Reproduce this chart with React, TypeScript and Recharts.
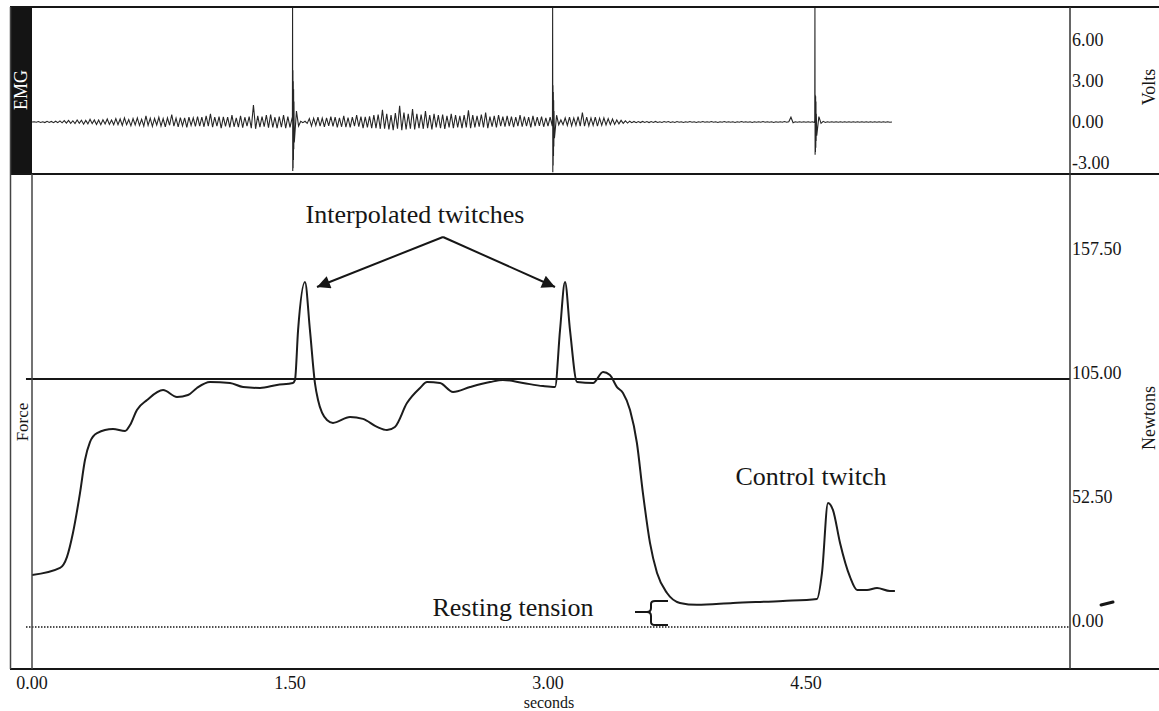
import { LineChart, Line, XAxis, YAxis, ReferenceLine } from 'recharts'

// force trace (seconds / newtons)
const forceTimes = [
    0, 0.163, 0.203, 0.238, 0.279, 0.308, 0.337, 0.378, 0.471, 0.541,
    0.570, 0.610, 0.669, 0.762, 0.843, 0.907, 0.959, 1.035, 1.151, 1.227,
    1.326, 1.424, 1.517, 1.529, 1.547, 1.587, 1.616, 1.645, 1.663, 1.715,
    1.750, 1.849, 1.924, 2.006, 2.064, 2.110, 2.180, 2.256, 2.297, 2.372,
    2.448, 2.547, 2.663, 2.738, 2.855, 2.971, 3.041, 3.070, 3.099, 3.128,
    3.169, 3.262, 3.320, 3.360, 3.401, 3.436, 3.477, 3.517, 3.552, 3.593,
    3.634, 3.692, 3.767, 3.866, 4.076, 4.366, 4.564, 4.593, 4.628, 4.657,
    4.698, 4.756, 4.797, 4.855, 4.913, 4.988, 5.017,
]
const forceNewtons = [
    22.0, 25.0, 29.6, 39.8, 56.7, 70.7, 78.3, 82.1, 83.8, 83.0,
    85.5, 91.9, 96.1, 100.3, 97.4, 98.2, 101.2, 103.7, 103.3, 101.6,
    101.2, 102.5, 103.3, 104.6, 125.7, 146.1, 125.7, 103.3, 96.1, 87.6,
    86.4, 88.9, 88.1, 84.7, 83.4, 84.7, 94.8, 101.2, 103.7, 103.3,
    99.5, 101.6, 103.7, 104.6, 103.3, 102.0, 101.6, 125.7, 146.1, 125.7,
    103.7, 103.3, 108.0, 106.7, 101.6, 99.1, 91.9, 77.9, 56.7, 35.6,
    22.9, 14.4, 10.2, 9.4, 10.2, 11.0, 11.9, 22.9, 52.5, 49.5,
    35.6, 21.2, 15.7, 15.7, 16.5, 15.2, 15.2,
]

// EMG, sampled every 12.5 ms (volts), one row = 0.5 s
const emgStep = 0.0125
const emgVolts = [
    0, 0.02, -0.02, 0.03, -0.03, 0.02, -0.04, 0.05, -0.03, 0.04, -0.05, 0.06, -0.05, 0.08, -0.06, 0.1, -0.08, 0.12, -0.1, 0.09,
    -0.12, 0.15, -0.1, 0.13, -0.16, 0.12, -0.14, 0.2, -0.12, 0.15, -0.18, 0.14, -0.2, 0.16, -0.14, 0.22, -0.18, 0.15, -0.2, 0.25,

    -0.2, 0.22, -0.25, 0.3, -0.2, 0.18, -0.28, 0.25, -0.22, 0.3, -0.26, 0.2, -0.3, 0.45, -0.25, 0.28, -0.32, 0.26, -0.22, 0.35,
    -0.3, 0.25, -0.35, 0.3, -0.24, 0.55, -0.3, 0.28, -0.36, 0.32, -0.28, 0.3, -0.4, 0.35, -0.25, 0.3, -0.32, 0.4, -0.3, 0.36,

    -0.35, 0.45, -0.3, 0.6, -0.38, 0.35, -0.3, 0.4, -0.45, 0.38, -0.32, 0.35, -0.4, 0.5, -0.35, 0.3, -0.38, 0.45, -0.42, 0.35,
    -0.3, 0.4, -0.45, 1.25, -0.5, 0.45, -0.38, 0.4, -0.35, 0.5, -0.42, 0.55, -0.4, 0.35, -0.45, 0.4, -0.38, 0.5, -0.45, 0.4,

    -0.4, 0.3, -1.5, 0.8, -0.3, 0.05, -0.05, 0.05, -0.1, 0.25, -0.3, 0.28, -0.25, 0.35, -0.3, 0.28, -0.35, 0.3, -0.28, 0.4,
    -0.32, 0.35, -0.4, 0.3, -0.35, 0.45, -0.38, 0.32, -0.4, 0.35, -0.3, 0.5, -0.35, 0.4, -0.45, 0.38, -0.4, 0.42, -0.45, 0.5,

    -0.45, 0.55, -0.5, 0.9, -0.5, 0.6, -0.55, 0.5, -0.6, 0.65, -0.5, 1.2, -0.6, 0.7, -0.55, 0.6, -0.5, 0.95, -0.55, 0.6,
    -0.45, 0.55, -0.5, 0.8, -0.45, 0.5, -0.55, 0.6, -0.4, 0.5, -0.45, 0.55, -0.5, 0.45, -0.4, 0.6, -0.45, 0.5, -0.4, 0.45,

    -0.45, 0.5, -0.4, 0.85, -0.45, 0.5, -0.4, 0.45, -0.35, 0.55, -0.4, 0.7, -0.45, 0.4, -0.35, 0.45, -0.4, 0.5, -0.3, 0.4,
    -0.35, 0.45, -0.3, 0.4, -0.38, 0.35, -0.3, 0.5, -0.35, 0.4, -0.3, 0.35, -0.4, 0.45, -0.3, 0.35, -0.28, 0.4, -0.35, 0.3,

    -0.3, 0.35, -0.3, -1.2, 0.5, -0.2, 0.15, -0.2, 0.3, -0.25, 0.35, -0.28, 0.3, -0.25, 0.4, -0.3, 0.7, -0.3, 0.35, -0.28,
    0.3, -0.25, 0.35, -0.3, 0.28, -0.25, 0.3, -0.22, 0.25, -0.2, 0.22, -0.18, 0.15, -0.14, 0.12, -0.1, 0.08, -0.08, 0.06, -0.05,

    0.04, -0.05, 0.03, -0.04, 0.04, -0.03, 0.03, -0.04, 0.03, -0.03, 0.04, -0.03, 0.02, -0.03, 0.03, -0.02, 0.03, -0.03, 0.02, -0.03,
    0.03, -0.02, 0.02, -0.03, 0.02, -0.02, 0.03, -0.02, 0.02, -0.03, 0.02, -0.02, 0.03, -0.02, 0.02, -0.02, 0.03, -0.02, 0.02, -0.03,

    0.02, -0.02, 0.03, -0.02, 0.02, -0.02, 0.02, -0.03, 0.02, -0.02, 0.03, -0.02, 0.02, -0.02, 0.02, -0.03, 0.02, -0.02, 0.02, -0.02,
    0.03, -0.02, 0.02, -0.02, 0.02, -0.03, 0.02, -0.02, 0.02, -0.02, 0.03, -0.02, 0.02, 0.35, -0.06, 0.02, -0.02, 0.02, -0.02, 0.02,

    -0.02, 0.02, -0.02, 0.02, -0.03, -1.0, 0.4, -0.1, 0.05, -0.03, 0.02, -0.02, 0.02, -0.02, 0.02, -0.02, 0.02, -0.02, 0.02, -0.02,
    0.02, -0.02, 0.02, -0.02, 0.02, -0.02, 0.02, -0.02, 0.02, -0.02, 0.02, -0.02, 0.02, -0.02, 0.02, -0.02, 0.02, -0.02, 0.02, -0.02,

    0,
]

// stimulus artefacts (thin full-height line + short burst)
const stim1Times = [1.514, 1.515, 1.516, 1.517, 1.518, 1.519, 1.520, 1.521, 1.522, 1.523]
const stim1Volts = [0.3, 8.4, -3.6, 3.8, -3.4, 3.0, -2.8, 2.4, -2.0, 1.5]
const stim2Times = [3.026, 3.027, 3.028, 3.029, 3.030, 3.031, 3.032, 3.033, 3.034, 3.035]
const stim2Volts = [0.3, 8.4, -3.7, 2.7, -3.2, 2.2, -2.5, 1.6, -1.8, 0.8]
const stim3Times = [4.551, 4.552, 4.553, 4.554, 4.555, 4.556, 4.557, 4.558, 4.559, 4.560]
const stim3Volts = [0.2, 8.4, -2.4, 2.0, -2.2, 1.9, -1.9, 1.5, -1.4, 0.6]

const secondTicks = [0, 1.5, 3, 4.5]
const voltTicks = [-3, 0, 3, 6]
const newtonTicks = [0, 52.5, 105, 157.5]

const forceData = forceTimes.map((t, i) => ({ t, n: forceNewtons[i] }))
const emgData = [
    ...emgVolts.map((v, i) => ({ t: +(i * emgStep).toFixed(4), v })),
    ...stim1Times.map((t, i) => ({ t, v: stim1Volts[i] })),
    ...stim2Times.map((t, i) => ({ t, v: stim2Volts[i] })),
    ...stim3Times.map((t, i) => ({ t, v: stim3Volts[i] })),
].sort((a, b) => a.t - b.t)

const W = 1159
const H = 711
const ink = '#161616'
const serif = '"Liberation Serif", "Times New Roman", serif'
const xDomain: [number, number] = [0, 6.035]

const ForceTick = ({ x, y, payload }: any) => (
    <text x={x} y={y} textAnchor="start" fontSize={18} fill={ink}>{Number(payload.value).toFixed(2)}</text>
)
const VoltTick = ({ x, y, payload }: any) => (
    <text x={x} y={y + 6} textAnchor="start" fontSize={18} fill={ink}>{Number(payload.value).toFixed(2)}</text>
)
const SecondTick = ({ x, y, payload }: any) => (
    <text x={x} y={y + 20} textAnchor="middle" fontSize={18} fill={ink}>{Number(payload.value).toFixed(2)}</text>
)

export default function App() {
    return (
        <div style={{ position: 'absolute', left: 0, top: 0, width: W, height: H, background: '#fff', fontFamily: serif }}>
            {/* EMG panel */}
            <div style={{ position: 'absolute', left: 0, top: 0 }}>
                <LineChart width={W} height={174} data={emgData} margin={{ top: 7, right: 0, bottom: 0, left: 32 }}>
                    <XAxis type="number" dataKey="t" domain={xDomain} hide allowDataOverflow />
                    <YAxis
                        yAxisId="v"
                        orientation="right"
                        width={89}
                        domain={[-3.824, 8.456]}
                        ticks={voltTicks}
                        tickSize={0}
                        tickMargin={2}
                        axisLine={false}
                        tickLine={false}
                        tick={VoltTick}
                        allowDataOverflow
                    />
                    <Line yAxisId="v" type="linear" dataKey="v" stroke="#262626" strokeWidth={1.1} dot={false} isAnimationActive={false} />
                </LineChart>
            </div>

            {/* Force panel */}
            <div style={{ position: 'absolute', left: 0, top: 0 }}>
                <LineChart width={W} height={H} data={forceData} margin={{ top: 174, right: 0, bottom: 0, left: 32 }}>
                    <XAxis
                        type="number"
                        dataKey="t"
                        domain={xDomain}
                        ticks={secondTicks}
                        height={42}
                        tickSize={0}
                        tickMargin={0}
                        axisLine={false}
                        tickLine={false}
                        tick={SecondTick}
                        allowDataOverflow
                    />
                    <YAxis
                        orientation="right"
                        width={89}
                        domain={[-17.78, 191.79]}
                        ticks={newtonTicks}
                        tickSize={0}
                        tickMargin={2}
                        axisLine={false}
                        tickLine={false}
                        tick={ForceTick}
                        allowDataOverflow
                    />
                    <ReferenceLine
                        segment={[{ x: -0.035, y: 105 }, { x: 6.035, y: 105 }]}
                        stroke={ink}
                        strokeWidth={2}
                        ifOverflow="visible"
                    />
                    <ReferenceLine
                        segment={[{ x: -0.035, y: 0 }, { x: 6.035, y: 0 }]}
                        stroke={ink}
                        strokeWidth={1.5}
                        strokeDasharray="1.5 1.5"
                        ifOverflow="visible"
                    />
                    <Line type="monotone" dataKey="n" stroke="#1c1c1c" strokeWidth={2} dot={false} isAnimationActive={false} />
                </LineChart>
            </div>

            {/* frame, titles and annotations */}
            <svg width={W} height={H} style={{ position: 'absolute', left: 0, top: 0, pointerEvents: 'none' }}>
                <defs>
                    <marker id="head" viewBox="0 0 10 10" refX="10" refY="5" markerWidth="18" markerHeight="13" markerUnits="userSpaceOnUse" orient="auto">
                        <path d="M0,0 L10,5 L0,10 z" fill={ink} />
                    </marker>
                </defs>
                <rect x={10} y={7} width={22} height={167} fill="#141414" />
                <text x={21} y={90} transform="rotate(-90 21 90)" textAnchor="middle" dominantBaseline="central" fontSize={18} fill="#fff">EMG</text>

                <line x1={10} y1={7} x2={W} y2={7} stroke={ink} strokeWidth={2} />
                <line x1={10} y1={174} x2={W} y2={174} stroke={ink} strokeWidth={2} />
                <line x1={10} y1={669} x2={W} y2={669} stroke={ink} strokeWidth={2} />
                <line x1={10.5} y1={7} x2={10.5} y2={669} stroke="#444" strokeWidth={1.5} />
                <line x1={32} y1={174} x2={32} y2={669} stroke="#444" strokeWidth={1.5} />
                <line x1={1070} y1={7} x2={1070} y2={669} stroke="#333" strokeWidth={1.5} />

                <text x={22} y={422} transform="rotate(-90 22 422)" textAnchor="middle" dominantBaseline="central" fontSize={17} fill={ink}>Force</text>
                <text x={1149} y={87} transform="rotate(-90 1149 87)" textAnchor="middle" dominantBaseline="central" fontSize={18} fill={ink}>Volts</text>
                <text x={1149} y={418} transform="rotate(-90 1149 418)" textAnchor="middle" dominantBaseline="central" fontSize={18} fill={ink}>Newtons</text>
                <text x={549} y={708} textAnchor="middle" fontSize={16} fill={ink}>seconds</text>

                <text x={415} y={223} textAnchor="middle" fontSize={26} fill={ink}>Interpolated twitches</text>
                <line x1={443} y1={237} x2={317} y2={287} stroke={ink} strokeWidth={2} markerEnd="url(#head)" />
                <line x1={443} y1={237} x2={555} y2={287} stroke={ink} strokeWidth={2} markerEnd="url(#head)" />

                <text x={811} y={485} textAnchor="middle" fontSize={26} fill={ink}>Control twitch</text>
                <text x={513} y={616} textAnchor="middle" fontSize={26} fill={ink}>Resting tension</text>
                <path d="M635,612 L647,612 Q651,612 651,608 L651,604 Q651,601 655,601 L668,601 M651,616 L651,622 Q651,625 655,625 L668,625" fill="none" stroke={ink} strokeWidth={2} />
                <path d="M647,612 Q651,612 651,616" fill="none" stroke={ink} strokeWidth={2} />
                <line x1={1101} y1={605} x2={1113} y2={602} stroke={ink} strokeWidth={3} strokeLinecap="round" />
            </svg>
        </div>
    )
}
